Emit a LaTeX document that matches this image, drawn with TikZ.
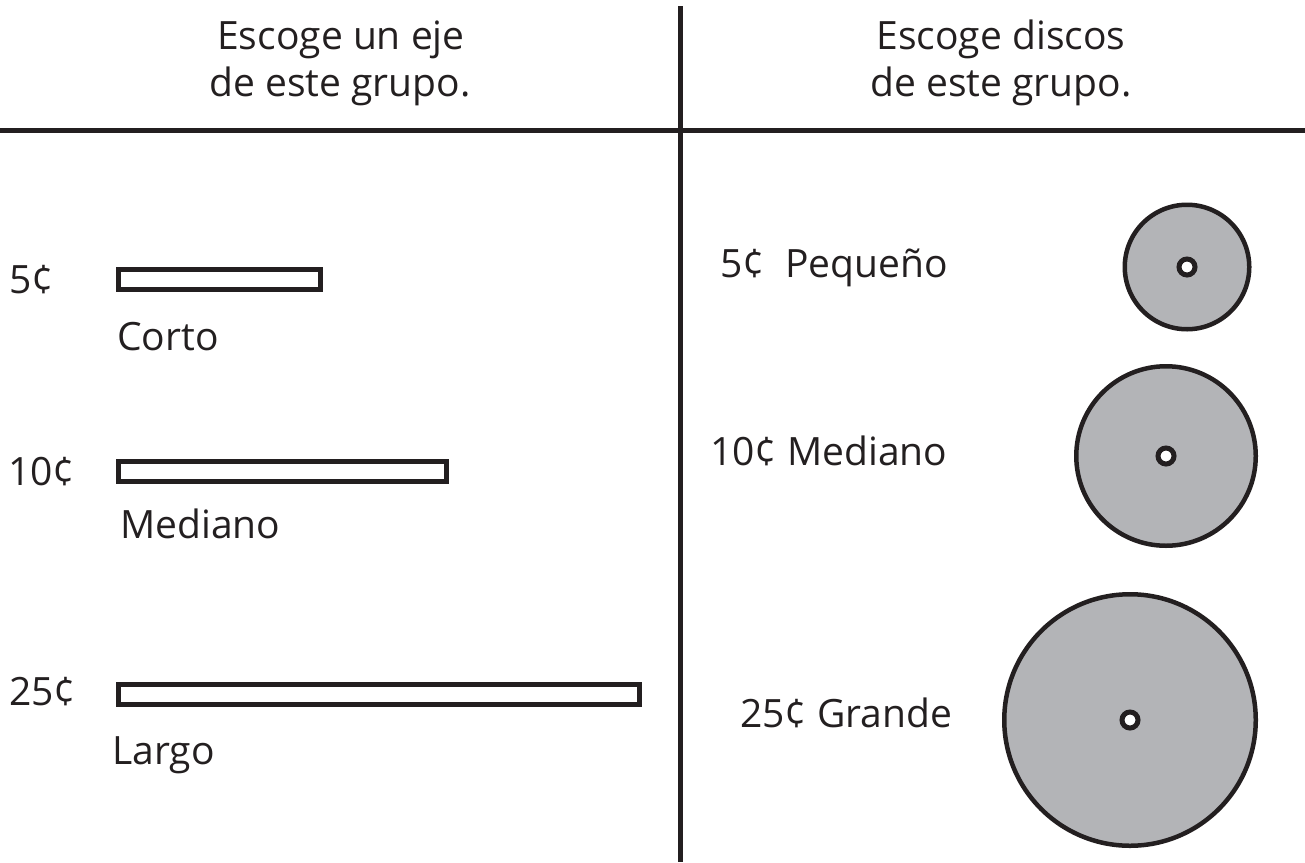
\documentclass[tikz,border=0pt]{standalone}
\usepackage{fontspec}
\setmainfont{Open Sans}
\usepackage{tikz}

\definecolor{tinta}{HTML}{231F20}
\definecolor{gris}{HTML}{B3B4B7}

\begin{document}
\begin{tikzpicture}[x=1pt,y=-1pt,
  txt/.style={anchor=base west,inner sep=0pt,text=tinta,font=\fontsize{39}{47}\selectfont},
  titulo/.style={txt,anchor=base},
  eje/.style={draw=tinta,rectangle,line width=5pt,minimum height=20pt,inner sep=0pt,anchor=west},
  disco/.style={draw=tinta,fill=gris,circle,line width=4.5pt,inner sep=0pt},
  agujero/.style={draw=tinta,fill=white,circle,line width=5pt,minimum size=16pt,inner sep=0pt}]
\useasboundingbox (0,0) rectangle (1305,862);
% lineas que dividen
\coordinate (izq) at (0,130.5);
\coordinate (der) at (1305,130.5);
\coordinate (arriba) at (680.5,6);
\coordinate (abajo) at (680.5,862);
\draw[line width=4.5pt,tinta] (izq) -- (der);
\draw[line width=4.5pt,tinta] (arriba) -- (abajo);
% titulos
\node[titulo] (t1) at (341,49) {Escoge un eje};
\node[titulo] (t2) at (340,96) {de este grupo.};
\node[titulo] (t3) at (1001,49) {Escoge discos};
\node[titulo] (t4) at (1001,96) {de este grupo.};
% ejes
\node[txt] (p1) at (9,293) {5¢};
\node[eje,minimum width=202pt] (e1) at (115.5,279.5) {};
\node[txt] (l1) at (117,350) {Corto};
\node[txt] (p2) at (8,485) {10¢};
\node[eje,minimum width=328pt] (e2) at (115.5,471.5) {};
\node[txt] (l2) at (120,538) {Mediano};
\node[txt] (p3) at (9,705) {25¢};
\node[eje,minimum width=521pt] (e3) at (115.5,694) {};
\node[txt] (l3) at (112,764) {Largo};
% discos
\node[txt] (q1) at (720,277) {5¢~~Pequeño};
\node[disco,minimum size=124.5pt] (d1) at (1187,267) {};
\node[agujero] (h1) at (d1.center) {};
\node[txt] (q2) at (710,465) {10¢ Mediano};
\node[disco,minimum size=179.5pt] (d2) at (1166,456) {};
\node[agujero] (h2) at (d2.center) {};
\node[txt] (q3) at (740,727) {25¢ Grande};
\node[disco,minimum size=251.5pt] (d3) at (1130,720) {};
\node[agujero] (h3) at (d3.center) {};
\end{tikzpicture}
\end{document}
